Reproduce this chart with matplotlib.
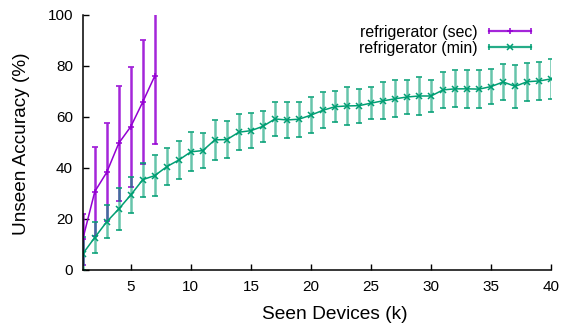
import matplotlib
matplotlib.use('Agg')
import matplotlib.pyplot as plt
from matplotlib.lines import Line2D
from matplotlib.legend_handler import HandlerLine2D, HandlerTuple

plt.rcParams['font.family'] = ['Liberation Sans', 'DejaVu Sans']

# refrigerator (sec): mean accuracy and error per seen-device count
sec_k = [1, 2, 3, 4, 5, 6, 7]
sec_acc = [12.0, 30.7, 38.3, 49.7, 56.2, 65.9, 76.1]
sec_err = [10.0, 17.3, 19.2, 22.5, 23.5, 24.3, 26.8]

# refrigerator (min)
min_k = list(range(1, 41))
min_acc = [6.3, 12.7, 18.9, 23.9, 29.4, 35.4, 37.0, 40.5, 43.1, 46.3,
           46.8, 51.0, 51.1, 54.0, 54.6, 56.3, 59.2, 58.8, 59.1, 60.7,
           62.6, 64.0, 64.3, 64.4, 65.4, 66.3, 67.1, 67.8, 68.2, 68.2,
           70.6, 71.0, 71.0, 70.9, 71.9, 73.7, 72.0, 73.8, 74.1, 74.9]
min_err = [6.5, 6.0, 6.5, 8.2, 7.2, 6.7, 8.0, 7.3, 7.3, 7.7,
           7.0, 7.8, 7.2, 7.0, 6.9, 6.0, 6.5, 6.9, 6.8, 7.0,
           7.0, 6.0, 7.3, 6.6, 6.4, 7.3, 7.2, 6.5, 7.5, 6.4,
           7.0, 7.3, 7.4, 7.5, 6.7, 7.2, 8.5, 7.5, 7.5, 7.8]

purple = '#9400D3'
green = '#009E73'

fig = plt.figure(figsize=(5.63, 3.24), dpi=100)
ax = fig.add_axes([0.147, 0.167, 0.832, 0.787])

series = [
    ('refrigerator (sec)', sec_k, sec_acc, sec_err, purple, '+', 0.85),
    ('refrigerator (min)', min_k, min_acc, min_err, green, 'x', 0.6),
]

handles = []
hmap = {}
for label, k, acc, err, col, mk, bar_alpha in series:
    line, caps, bars = ax.errorbar(k, acc, yerr=err, color=col, lw=1.1,
                                   marker=mk, ms=5, mew=1.1,
                                   elinewidth=1.8, capsize=2.5, capthick=1.3)
    for b in bars:
        b.set_alpha(bar_alpha)
    # gnuplot-style horizontal legend sample: bar with caps and centre marker
    ends = Line2D([], [], color=col, lw=1.6, marker='|', ms=5, mew=1.3, alpha=0.85)
    mid = Line2D([], [], color=col, ls='none', marker=mk, ms=5, mew=1.1)
    hmap[ends] = HandlerLine2D(numpoints=2)
    hmap[mid] = HandlerLine2D(numpoints=1)
    handles.append((ends, mid))

hmap[tuple] = HandlerTuple(ndivide=1)
ax.legend(handles, [s[0] for s in series], handler_map=hmap,
          loc='upper right', bbox_to_anchor=(0.99, 1.005), frameon=False,
          markerfirst=False, fontsize=11.4, handlelength=3.2,
          handletextpad=0.45, labelspacing=0.05, borderaxespad=0.3)

ax.set_xlim(1, 40)
ax.set_ylim(0, 100)
ax.set_xticks([5, 10, 15, 20, 25, 30, 35, 40])
ax.set_yticks([0, 20, 40, 60, 80, 100])
ax.tick_params(direction='in', length=4, width=1, labelsize=11, pad=7)
ax.spines['top'].set_visible(False)
ax.spines['right'].set_visible(False)
for s in ('left', 'bottom'):
    ax.spines[s].set_linewidth(1.1)

ax.set_xlabel('Seen Devices (k)', fontsize=13.8, va='center')
ax.set_ylabel('Unseen Accuracy (%)', fontsize=13.7, va='center')
ax.xaxis.set_label_coords(0.539, -0.173)
ax.yaxis.set_label_coords(-0.13, 0.495)

fig.savefig('out.png', dpi=100)
